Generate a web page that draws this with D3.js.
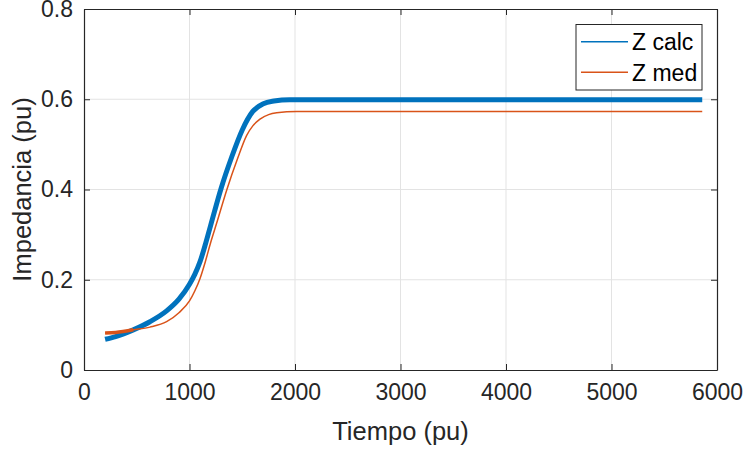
<!DOCTYPE html>
<html>
  <head>
    <meta charset="utf-8">
    <title>Impedancia</title>
    <script src="https://d3js.org/d3.v7.min.js"></script>
    <style>
      body { margin: 0; background: #fff; }
      svg text { font-family: "Liberation Sans", Arial, Helvetica, sans-serif; fill: #262626; }
    </style>
  </head>
  <body>
    <svg id="chart" width="747" height="452"></svg>
    <script>
      // data
      var xTicks = [0, 1000, 2000, 3000, 4000, 5000, 6000];
      var xTickLabels = ["0", "1000", "2000", "3000", "4000", "5000", "6000"];
      var yTicks = [0, 0.2, 0.4, 0.6, 0.8];
      var yTickLabels = ["0", "0.2", "0.4", "0.6", "0.8"];
      var seriesNames = ["Z calc", "Z med"];
      var zCalcT = [200, 300, 467, 625, 783, 900, 1000, 1050, 1100, 1150, 1200, 1300, 1400, 1500, 1600, 1700, 1800, 1950, 5860];
      var zCalcV = [0.068, 0.074, 0.089, 0.107, 0.131, 0.157, 0.190, 0.212, 0.240, 0.278, 0.320, 0.403, 0.472, 0.532, 0.573, 0.590, 0.596, 0.599, 0.599];
      var zMedT = [200, 300, 467, 625, 783, 900, 1000, 1050, 1100, 1150, 1200, 1257, 1353, 1455, 1542, 1600, 1668, 1750, 1826, 2016, 5860];
      var zMedV = [0.082, 0.083, 0.089, 0.095, 0.107, 0.127, 0.153, 0.175, 0.203, 0.240, 0.282, 0.325, 0.399, 0.468, 0.520, 0.541, 0.556, 0.566, 0.570, 0.573, 0.573];

      // plot box (window.top is read-only, so no bare "top")
      var boxL = 84, boxR = 717, boxT = 9, boxB = 370;
      var svg = d3.select("#chart");
      var x = d3.scaleLinear().domain([0, 6000]).range([boxL, boxR]);
      var y = d3.scaleLinear().domain([0, 0.8]).range([boxB, boxT]);

      // grid
      svg.append("g").selectAll("line").data(xTicks.slice(1, -1)).enter().append("line")
        .attr("x1", function(d) { return x(d); }).attr("x2", function(d) { return x(d); })
        .attr("y1", boxT).attr("y2", boxB)
        .attr("stroke", "#e3e3e3").attr("stroke-width", 1);
      svg.append("g").selectAll("line").data(yTicks.slice(1, -1)).enter().append("line")
        .attr("y1", function(d) { return y(d); }).attr("y2", function(d) { return y(d); })
        .attr("x1", boxL).attr("x2", boxR)
        .attr("stroke", "#e3e3e3").attr("stroke-width", 1);

      // lines (noisy signal drawn as a thick stroke)
      var line = d3.line().curve(d3.curveMonotoneX);
      var calc = zCalcT.map(function(t, i) { return [x(t), y(zCalcV[i])]; });
      var med = zMedT.map(function(t, i) { return [x(t), y(zMedV[i])]; });
      svg.append("path").attr("d", line(calc)).attr("fill", "none")
        .attr("stroke", "#0072BD").attr("stroke-width", 5);
      svg.append("path").attr("d", line(med.slice(0, 3))).attr("fill", "none")
        .attr("stroke", "#D95319").attr("stroke-width", 3.5);
      svg.append("path").attr("d", line(med)).attr("fill", "none")
        .attr("stroke", "#D95319").attr("stroke-width", 1.5);

      // axes with inward ticks on all four sides
      var xAxis = d3.axisBottom(x).tickValues(xTicks).tickSizeInner(-6).tickSizeOuter(0)
        .tickPadding(14).tickFormat(function(d, i) { return xTickLabels[i]; });
      var yAxis = d3.axisLeft(y).tickValues(yTicks).tickSizeInner(-6).tickSizeOuter(0)
        .tickPadding(14).tickFormat(function(d, i) { return yTickLabels[i]; });
      var gx = svg.append("g").attr("transform", "translate(0," + boxB + ")").call(xAxis);
      var gy = svg.append("g").attr("transform", "translate(" + boxL + ",0)").call(yAxis);
      svg.append("g").attr("transform", "translate(0," + boxT + ")")
        .call(d3.axisTop(x).tickValues(xTicks).tickSizeInner(-6).tickSizeOuter(0).tickFormat(""));
      svg.append("g").attr("transform", "translate(" + boxR + ",0)")
        .call(d3.axisRight(y).tickValues(yTicks).tickSizeInner(-6).tickSizeOuter(0).tickFormat(""));
      svg.selectAll(".domain").attr("stroke", "#262626").attr("stroke-width", 1.2);
      svg.selectAll(".tick line").attr("stroke", "#262626");
      gx.selectAll("text").attr("font-size", 23).attr("y", 14).attr("dy", "0.71em");
      gy.selectAll("text").attr("font-size", 23).attr("x", -11);
      svg.selectAll(".tick text").style("fill", "#262626");

      // axis titles
      svg.append("text").attr("x", (boxL + boxR) / 2).attr("y", 440)
        .attr("text-anchor", "middle").attr("font-size", 25.5).text("Tiempo (pu)");
      svg.append("text").attr("transform", "translate(31," + (boxT + boxB) / 2 + ") rotate(-90)")
        .attr("text-anchor", "middle").attr("font-size", 25.5).text("Impedancia (pu)");

      // legend
      var lg = svg.append("g");
      lg.append("rect").attr("x", 576).attr("y", 24.5).attr("width", 126).attr("height", 65.5)
        .attr("fill", "#fff").attr("stroke", "#262626").attr("stroke-width", 1);
      var colors = ["#0072BD", "#D95319"];
      seriesNames.forEach(function(name, i) {
        var yy = 41.7 + i * 30.6;
        lg.append("line").attr("x1", 581).attr("x2", 628).attr("y1", yy).attr("y2", yy)
          .attr("stroke", colors[i]).attr("stroke-width", 1.5);
        lg.append("text").attr("x", 632).attr("y", yy).attr("dy", "0.36em")
          .attr("font-size", 23).style("fill", "#000").text(name);
      });
    </script>
  </body>
</html>
